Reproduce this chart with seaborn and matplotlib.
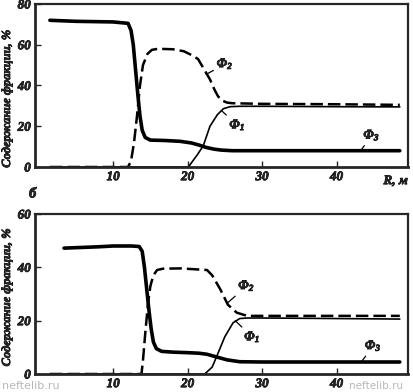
import matplotlib
matplotlib.use("Agg")
import matplotlib.pyplot as plt
import matplotlib.patheffects as pe
import seaborn as sns
import pandas as pd

# ---------------- data: upper panel ----------------
top_f3_x = [1.5, 5, 10, 12.0, 12.4, 12.7, 13.0, 13.3, 13.6, 13.9, 14.3, 15.0, 17, 19, 20.5, 21.5, 22.5, 23.5, 24.5, 26, 30, 40, 48.5]
top_f3_y = [72, 71.5, 71.2, 70.5, 67, 60, 48, 36, 25, 18, 14.5, 13.2, 13, 12.6, 11.8, 10.8, 9.6, 8.8, 8.3, 8.0, 8.0, 8.0, 8.0]
top_f2_x = [1.5, 10, 12.0, 12.4, 12.8, 13.2, 13.6, 14.0, 14.6, 15.2, 16, 18, 19.5, 20.5, 21.4, 22.2, 23.0, 23.6, 24.1, 24.7, 25.3, 26, 30, 40, 48.5]
top_f2_y = [0, 0, 0, 3, 12, 25, 40, 50, 55.5, 57.5, 58, 57.8, 56.8, 55, 53, 48, 43, 38, 34.6, 32.5, 31.6, 31.3, 31, 30.8, 30.5]
top_f1_x = [1.5, 10, 20.1, 20.6, 21.3, 22.1, 23.0, 24.0, 24.8, 25.7, 27, 30, 40, 48.5]
top_f1_y = [0, 0, 0, 2.5, 6, 10.4, 20, 25.7, 28.6, 29.6, 29.8, 29.8, 29.6, 29.5]

# ---------------- data: lower panel ----------------
bot_f3_x = [3.4, 8, 10, 12.5, 13.5, 13.9, 14.2, 14.5, 14.8, 15.1, 15.4, 15.8, 16.5, 18, 20, 21.5, 22.6, 24, 25.3, 27, 30, 40, 48.5]
bot_f3_y = [47.2, 47.7, 48, 48, 47.8, 46, 40, 32, 24, 17, 12, 9.5, 8.5, 8.2, 8.0, 7.8, 7.4, 6.3, 5.3, 4.6, 4.5, 4.5, 4.5]
bot_f2_x = [1.5, 10, 13.8, 14.0, 14.3, 14.7, 15.0, 15.4, 15.9, 16.7, 19, 22.6, 23.3, 24.4, 25.4, 26.6, 28, 30, 40, 48.5]
bot_f2_y = [0, 0, 0, 5, 15, 27, 33, 37, 39, 39.5, 39.6, 39, 37, 31.7, 26, 23, 21.8, 21.8, 21.8, 21.8]
bot_f1_x = [1.5, 10, 22.3, 23.3, 24.1, 25.0, 26.1, 27.0, 28, 30, 40, 48.5]
bot_f1_y = [0, 0, 0, 2.6, 7.9, 14, 19.2, 20.8, 21.0, 21.0, 20.8, 20.6]

x_ticks = [10, 20, 30, 40]
top_y_ticks = [0, 20, 40, 60, 80]
bot_y_ticks = [0, 20, 40, 60]
y_label = "Содержание фракции, %"
x_unit_label = "R, м"
panel_label = "б"
names = [r"$\Phi_1$", r"$\Phi_2$", r"$\Phi_3$"]

sns.set_style("ticks")
plt.rcParams["font.family"] = ["Liberation Serif", "DejaVu Serif"]
plt.rcParams["font.style"] = "italic"
plt.rcParams["font.weight"] = "bold"
plt.rcParams["mathtext.fontset"] = "custom"
plt.rcParams["mathtext.rm"] = "Liberation Serif:italic:bold"
plt.rcParams["mathtext.it"] = "Liberation Serif:italic:bold"
plt.rcParams["mathtext.bf"] = "Liberation Serif:italic:bold"

W, H = 413, 392
fig = plt.figure(figsize=(W / 100, H / 100), dpi=100)
ax1 = fig.add_axes([35 / W, 1 - 167 / H, (408 - 35) / W, (167 - 4) / H])
ax2 = fig.add_axes([35 / W, 1 - 374 / H, (408 - 35) / W, (374 - 214) / H])

fs = 9.5
heavy = [pe.withStroke(linewidth=0.5, foreground="black")]


def draw(ax, f1x, f1y, f2x, f2y, f3x, f3y, ylim, yticks, label_y):
    d1 = pd.DataFrame({"x": f1x, "y": f1y})
    d2 = pd.DataFrame({"x": f2x, "y": f2y})
    d3 = pd.DataFrame({"x": f3x, "y": f3y})
    sns.lineplot(data=d3, x="x", y="y", ax=ax, color="black", lw=2.6, sort=False, estimator=None)
    sns.lineplot(data=d2, x="x", y="y", ax=ax, color="black", lw=1.8, sort=False, estimator=None,
                 linestyle=(0, (5, 2.0)))
    sns.lineplot(data=d1, x="x", y="y", ax=ax, color="black", lw=1.2, sort=False, estimator=None)
    ax.set_xlim(-0.5, 49.6)
    ax.set_ylim(*ylim)
    ax.set_xticks(x_ticks)
    ax.set_yticks(yticks)
    ax.set_xlabel("")
    ax.set_ylabel(y_label, fontsize=9, fontweight="bold", fontstyle="italic",
                  path_effects=heavy, va="center")
    ax.yaxis.set_label_coords(-0.075, label_y)
    ax.tick_params(direction="in", length=4, width=1, labelsize=fs, pad=3)
    for lab in ax.get_xticklabels() + ax.get_yticklabels():
        lab.set_fontweight("bold")
        lab.set_fontstyle("italic")
        lab.set_path_effects(heavy)
    for side in ["left", "bottom"]:
        ax.spines[side].set_linewidth(2.0)
    for side in ["top", "right"]:
        ax.spines[side].set_linewidth(1.6)


draw(ax1, top_f1_x, top_f1_y, top_f2_x, top_f2_y, top_f3_x, top_f3_y, (0, 80), top_y_ticks, 0.42)
draw(ax2, bot_f1_x, bot_f1_y, bot_f2_x, bot_f2_y, bot_f3_x, bot_f3_y, (0, 60), bot_y_ticks, 0.48)

lp = dict(arrowprops=dict(arrowstyle="-", color="black", lw=0.9, shrinkA=0, shrinkB=0),
          fontsize=fs, va="center", ha="left", path_effects=heavy)
# upper panel labels
ax1.annotate(names[1], xy=(22.5, 45.5), xytext=(23.9, 50.5), **lp)
ax1.annotate(names[0], xy=(24.6, 27.5), xytext=(25.6, 20.5), **lp)
ax1.annotate(names[2], xy=(43.3, 8.3), xytext=(43.6, 15.5), **lp)
# lower panel labels
ax2.annotate(names[1], xy=(25.3, 26.5), xytext=(26.8, 33.0), **lp)
ax2.annotate(names[0], xy=(26.4, 20.0), xytext=(27.6, 13.8), **lp)
ax2.annotate(names[2], xy=(43.4, 4.8), xytext=(43.8, 10.5), **lp)

# unit label on the top axis
ax1.text(46.3, -4.0, x_unit_label, fontsize=fs, ha="left", va="top", clip_on=False,
         path_effects=heavy)
# panel letter
fig.text(29 / W, 1 - 194 / H, panel_label, fontsize=fs + 1, ha="left", va="center",
         path_effects=heavy)
# watermark
fig.text(2 / W, 1 / H, "neftelib.ru", fontsize=8, color="#b8b8b8",
         fontfamily="DejaVu Sans", fontstyle="normal", fontweight="normal", va="bottom")
fig.text(349 / W, 1 / H, "neftelib.ru", fontsize=7.5, color="#b8b8b8",
         fontfamily="DejaVu Sans", fontstyle="normal", fontweight="normal", va="bottom")

fig.savefig("out.png", dpi=100)
